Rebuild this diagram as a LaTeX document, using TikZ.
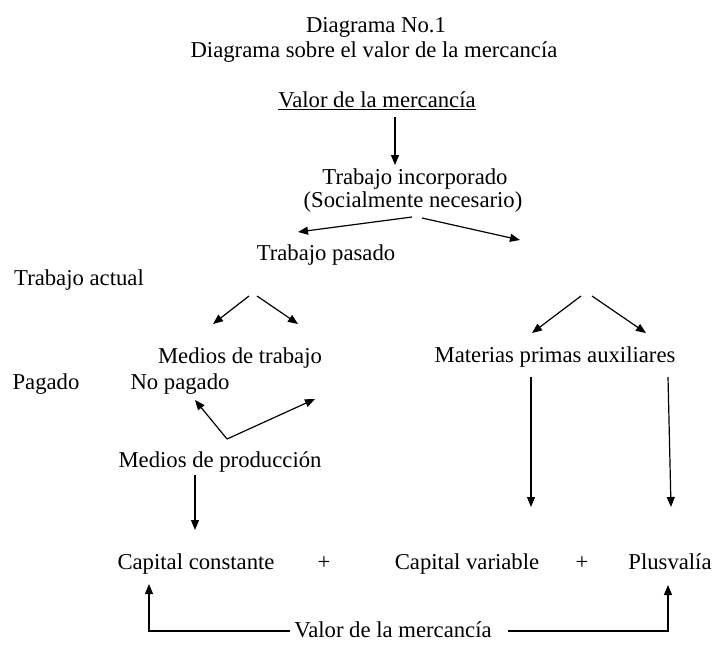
\documentclass[tikz,border=0pt]{standalone}
\usepackage{fontspec}
\setmainfont{Liberation Serif}
\usetikzlibrary{arrows.meta}

\begin{document}
\begin{tikzpicture}[x=1pt,y=-1pt,
	every node/.style={font=\fontsize{22.7}{23}\selectfont,inner sep=0pt,text height=15pt,text depth=5pt,yshift=-2pt},
	flecha/.style={-{Triangle[length=10pt,width=8pt]},line width=1.2pt}]
	\useasboundingbox (0,0) rectangle (712,645);
	% textos
	\node (titulo) at (376,25) {Diagrama No.1};
	\node (subtit) at (374,50) {Diagrama sobre el valor de la mercancía};
	\node (valor) at (377,100) {\underline{Valor de la mercancía}};
	\node (tinc) at (415,177) {Trabajo incorporado};
	\node (tsoc) at (413,200) {(Socialmente necesario)};
	\node (tpas) at (326,253) {Trabajo pasado};
	\node (tact) at (79,278) {Trabajo actual};
	\node (mtra) at (240,356) {Medios de trabajo};
	\node (mpri) at (555,355) {Materias primas auxiliares};
	\node (pag) at (46,382) {Pagado};
	\node (nopag) at (180,382) {No pagado};
	\node (mpro) at (220,460) {Medios de producción};
	\node (ccons) at (196,562) {Capital constante};
	\node (mas1) at (324,562) {+};
	\node (cvar) at (467,562) {Capital variable};
	\node (mas2) at (582,562) {+};
	\node (plus) at (670,562) {Plusvalía};
	\node (valor2) at (393,630) {Valor de la mercancía};
	% extremos de las flechas
	\coordinate (v1) at (395,115);   \coordinate (v2) at (395,163);
	\coordinate (s1) at (412,215);   \coordinate (s2) at (298,230);
	\coordinate (s3) at (422,216);   \coordinate (s4) at (520,238);
	\coordinate (p1) at (249,294);   \coordinate (p2) at (213,322);
	\coordinate (p3) at (257,294);   \coordinate (p4) at (298,322);
	\coordinate (a1) at (581,294);   \coordinate (a2) at (532,331);
	\coordinate (a3) at (592,294);   \coordinate (a4) at (646,331);
	\coordinate (n0) at (227,437);   \coordinate (n1) at (195,398);
	\coordinate (n2) at (315,397);
	\coordinate (m1) at (195,473);   \coordinate (m2) at (195,528);
	\coordinate (r1) at (531,375);   \coordinate (r2) at (531,505);
	\coordinate (r3) at (668,375);   \coordinate (r4) at (671,505);
	\coordinate (c1) at (149,582);   \coordinate (c2) at (668,583);
	\path[flecha]
	(v1) edge (v2)
	(s1) edge (s2)
	(s3) edge (s4)
	(p1) edge (p2)
	(p3) edge (p4)
	(a1) edge (a2)
	(a3) edge (a4)
	(n0) edge (n1)
	     edge (n2)
	(m1) edge (m2)
	(r1) edge (r2)
	(r3) edge (r4);
	\draw[flecha] ([xshift=-4pt,yshift=1pt]valor2.west) -| (c1);
	\draw[flecha] ([xshift=16pt,yshift=1pt]valor2.east) -| (c2);
\end{tikzpicture}
\end{document}
